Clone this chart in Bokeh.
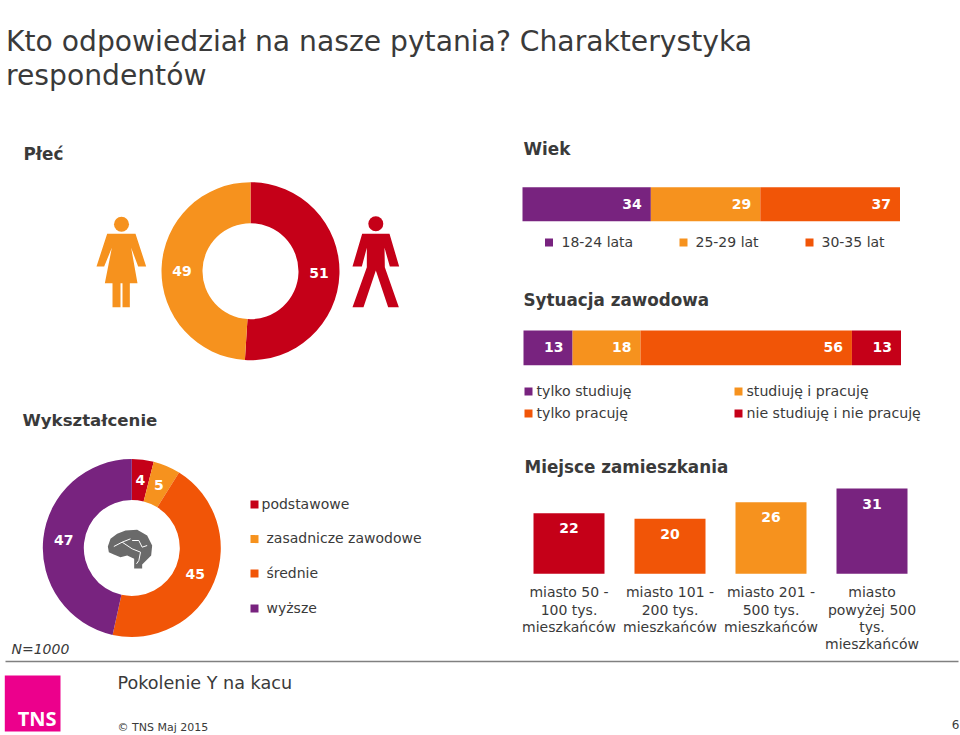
import math
from bokeh.plotting import figure
from bokeh.models import Range1d
from bokeh.embed import file_html
from bokeh.resources import INLINE
from bokeh.core.properties import value

PURPLE = "#78237F"
ORANGE = "#F6921E"
DKORANGE = "#F15507"
RED = "#C50018"
INK = "#3A3A3A"

gender_labels = ["kobieta", "mężczyzna"]
gender_values = [51, 49]
gender_colors = [RED, ORANGE]

age_labels = ["18-24 lata", "25-29 lat", "30-35 lat"]
age_values = [34, 29, 37]
age_colors = [PURPLE, ORANGE, DKORANGE]

job_labels = ["tylko studiuję", "studiuję i pracuję", "tylko pracuję", "nie studiuję i nie pracuję"]
job_values = [13, 18, 56, 13]
job_colors = [PURPLE, ORANGE, DKORANGE, RED]

edu_labels = ["podstawowe", "zasadnicze zawodowe", "średnie", "wyższe"]
edu_values = [4, 5, 45, 47]
edu_colors = [RED, ORANGE, DKORANGE, PURPLE]

city_labels = [
    ["miasto 50 -", "100 tys.", "mieszkańców"],
    ["miasto 101 -", "200 tys.", "mieszkańców"],
    ["miasto 201 -", "500 tys.", "mieszkańców"],
    ["miasto", "powyżej 500", "tys.", "mieszkańców"],
]
city_values = [22, 20, 26, 31]
city_colors = [RED, DKORANGE, ORANGE, PURPLE]

W, H = 960, 735
FONT = "DejaVu Sans"

p = figure(width=W, height=H, x_range=Range1d(0, W), y_range=Range1d(H, 0),
           output_backend="svg", toolbar_location=None, min_border=0,
           outline_line_color=None, background_fill_color="white")
p.axis.visible = False
p.grid.visible = False


def x_scale(v0, px0, v1, px1):
    k = (v1 - v0) / (px1 - px0)
    return Range1d(start=v0 - px0 * k, end=v0 + (W - px0) * k)


def y_scale(v0, px0, v1, px1):
    k = (v1 - v0) / (px1 - px0)
    return Range1d(start=v0 + (H - px0) * k, end=v0 - px0 * k)


def txt(x, y, s, size=14, bold=False, italic=False, color=INK, align="left", **kw):
    style = "bold" if bold else ("italic" if italic else "normal")
    p.text([x], [y], text=[s], text_font=value(FONT), text_font_size=f"{size}px",
           text_font_style=style, text_color=color, text_align=align,
           text_baseline="middle", **kw)


def square(x, y, color):
    p.rect([x], [y], width=8, height=8, fill_color=color, line_color=None)


def donut(cx, cy, values, colors, nudges):
    total = sum(values)
    cum = 0
    ro, ri = 89, 48
    for v, c, n in zip(values, colors, nudges):
        a0 = cum / total * 2 * math.pi
        a1 = (cum + v) / total * 2 * math.pi
        p.annular_wedge([cx], [cy], inner_radius=ri, outer_radius=ro,
                        start_angle=math.pi / 2 - a0, end_angle=math.pi / 2 - a1,
                        direction="clock", fill_color=c, line_color=None)
        mid = (a0 + a1) / 2
        rm = (ro + ri) / 2
        txt(cx + rm * math.sin(mid), cy - rm * math.cos(mid) + n, str(v),
            14, True, color="white", align="center")
        cum += v


def stack(values, colors, range_name, y0, y1):
    cum = 0
    for v, c in zip(values, colors):
        p.hbar(y=[(y0 + y1) / 2], left=[cum], right=[cum + v], height=y1 - y0,
               fill_color=c, line_color=None, x_range_name=range_name)
        cum += v
        p.text([cum], [(y0 + y1) / 2 - 0.5], text=[str(v)], x_offset=-9,
               text_font=value(FONT), text_font_size="14px", text_font_style="bold",
               text_color="white", text_align="right", text_baseline="middle",
               x_range_name=range_name)


def shape(points, color, ox, oy):
    p.patch([ox + a / 3 for a, _ in points], [oy + b / 3 for _, b in points],
            fill_color=color, line_color=None)


# Title
txt(5.5, 41, "Kto odpowiedział na nasze pytania? Charakterystyka", 28.2)
txt(5.5, 75, "respondentów", 28.2)

# Section heads
txt(23, 153, "Płeć", 16.8, True)
txt(523, 148, "Wiek", 16.8, True)
txt(523, 299, "Sytuacja zawodowa", 16.8, True)
txt(22, 420, "Wykształcenie", 16.6, True)
txt(524, 466, "Miejsce zamieszkania", 16.8, True)

# Gender
donut(250, 270.7, gender_values, gender_colors, [0, 1.5])
woman = [(320, 310), (405, 310), (437, 408), (413, 408), (392, 352), (411, 458), (388, 458),
         (388, 530), (366, 530), (366, 458), (360, 458), (360, 530), (336, 530), (336, 458),
         (313, 458), (334, 352), (311, 408), (288, 408)]
man = [(1085, 310), (1167, 310), (1196, 408), (1168, 408), (1152, 352), (1153, 410), (1195, 530),
       (1163, 530), (1126, 420), (1089, 530), (1056, 530), (1099, 410), (1099, 352), (1084, 408),
       (1056, 408)]
shape(woman, ORANGE, 0, 130)
shape(man, RED, 0, 130)
p.circle([121], [223.7], radius=7.5, fill_color=ORANGE, line_color=None)
p.circle([375.3], [223.3], radius=7.5, fill_color=RED, line_color=None)

# Age
p.extra_x_ranges["age"] = x_scale(0, 522, 100, 899.5)
stack(age_values, age_colors, "age", 186.7, 220.7)
for x, name, c, tx in zip([548.5, 683, 809], age_labels, age_colors, [561, 695, 821]):
    square(x, 242, c)
    txt(tx, 241, name, 14)

# Job
p.extra_x_ranges["job"] = x_scale(0, 523, 100, 900.5)
stack(job_values, job_colors, "job", 330, 364.7)
for (x, y, tx), name, c in zip([(528, 391, 536), (738, 391, 746), (528, 413, 536), (738, 413, 746)],
                               job_labels, job_colors):
    square(x, y, c)
    txt(tx, y - 1, name, 14.15)

# Education
donut(131.3, 547.5, edu_values, edu_colors, [0, 0, 0, -0.5])
for y, name, c, tx in zip([504, 538.6, 573, 608], edu_labels, edu_colors, [261, 266, 266, 266]):
    square(254, y, c)
    txt(tx, y - 1, name, 14)

# Brain icon
brain = [(322, 318), (330, 295), (350, 280), (375, 270), (410, 268), (440, 285), (455, 315),
         (452, 345), (437, 360), (425, 372), (425, 384), (401, 384), (401, 355), (380, 345),
         (360, 350), (340, 342), (325, 335)]
shape(brain, "#6A6A6A", 0, 440)
for seg in ([(340, 318), (365, 305), (390, 295)], [(365, 305), (395, 325), (420, 335)],
            [(395, 300), (415, 300), (425, 320), (440, 315)], [(420, 335), (415, 360), (408, 370)]):
    p.line([a / 3 for a, _ in seg], [440 + b / 3 for _, b in seg], line_color="white", line_width=1)

# City columns
p.extra_x_ranges["city"] = x_scale(0, 568.5, 3, 871.5)
p.extra_y_ranges["city"] = y_scale(0, 573.3, 31, 488)
idx = list(range(len(city_values)))
p.vbar(x=idx, top=city_values, bottom=0, width=0.703, fill_color=city_colors, line_color=None,
       x_range_name="city", y_range_name="city")
p.text(idx, city_values, text=[str(v) for v in city_values], y_offset=15,
       text_font=value(FONT), text_font_size="14px", text_font_style="bold", text_color="white",
       text_align="center", text_baseline="middle", x_range_name="city", y_range_name="city")
for i, lines in enumerate(city_labels):
    for j, line in enumerate(lines):
        p.text([i], [591.9 + j * 17.2], text=[line], text_font=value(FONT), text_font_size="14px",
               text_color=INK, text_align="center", text_baseline="middle", x_range_name="city")

# Footer
txt(11, 648, "N=1000", 14, italic=True)
p.line([5, 958], [661, 661], line_color="#808080", line_width=1.5)
p.quad(left=[4.3], right=[60], top=[675], bottom=[731], fill_color="#EC008C", line_color=None)
p.text([56], [718], text=["TNS"], text_font=value("Open Sans"), text_font_size="20px",
       text_font_style="bold", text_color="white", text_align="right", text_baseline="middle")
txt(117, 682, "Pokolenie Y na kacu", 17.6)
txt(117, 727, "© TNS Maj 2015", 11)
txt(959, 724, "6", 12, align="right")

html = file_html(p, INLINE).replace("<head>", "<head><style>html,body{margin:0;padding:0;overflow:hidden}</style>", 1)
open("out.html", "w").write(html)
